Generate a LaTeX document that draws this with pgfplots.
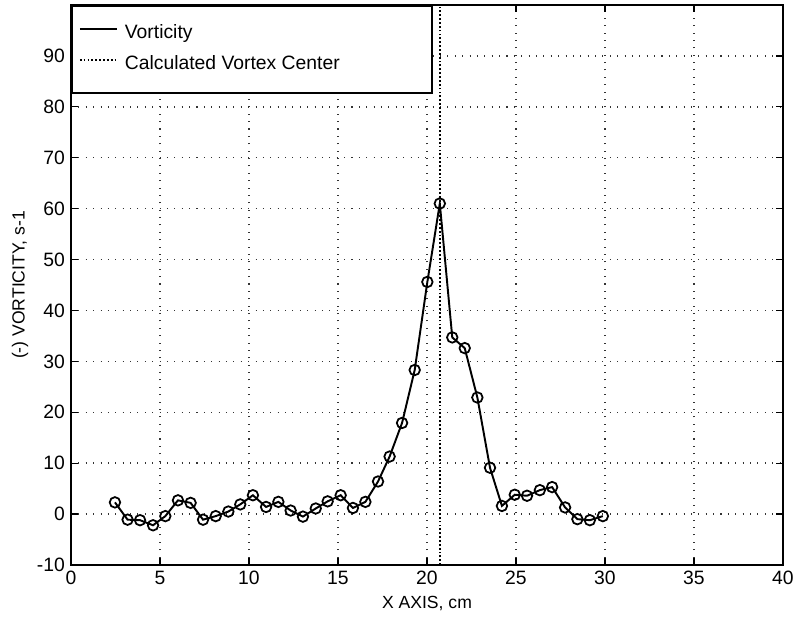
\documentclass[border=0pt]{standalone}
\usepackage{pgfplots}
\pgfplotsset{compat=1.18}
\usepackage{fontspec}
\setmainfont{Liberation Sans}

\pgfplotstableread{
x      y
2.47   2.3
3.18  -1.1
3.88  -1.2
4.61  -2.2
5.30  -0.4
6.01   2.7
6.72   2.2
7.42  -1.1
8.13  -0.4
8.84   0.5
9.51   1.9
10.22  3.7
10.96  1.4
11.65  2.4
12.34  0.7
13.03 -0.5
13.75  1.1
14.42  2.5
15.15  3.7
15.84  1.2
16.54  2.4
17.25  6.4
17.90 11.3
18.60 17.9
19.31 28.3
20.02 45.6
20.72 61.0
21.42 34.7
22.12 32.6
22.83 22.9
23.54  9.1
24.21  1.6
24.93  3.8
25.62  3.6
26.34  4.7
27.03  5.3
27.76  1.3
28.45 -1.0
29.15 -1.2
29.88 -0.4
}\vort

\begin{document}
\begin{tikzpicture}
\begin{axis}[
    scale only axis,
    width=14.24cm, height=11.2cm,
    xmin=0, xmax=40, ymin=-10, ymax=100,
    xtick={0,5,...,40},
    ytick={-10,0,...,90},
    tick align=inside,
    major tick length=0.14cm,
    every tick/.style={black, line width=0.7pt},
    axis line style={line width=1.1pt},
    grid=major,
    grid style={black!80, line width=0.8pt, dash pattern=on 0.6pt off 3.6pt},
    tick label style={font=\fontsize{11}{13}\selectfont},
    /pgf/number format/assume math mode=true,
    xlabel={X AXIS, cm},
    ylabel={(-) VORTICITY, s-1},
    label style={font=\fontsize{11}{13}\selectfont},
    every axis x label/.style={at={(rel axis cs:0.5,-0.068)}, anchor=center},
    every axis y label/.style={at={(rel axis cs:-0.0716,0.5)}, rotate=90, anchor=center},
    legend image code/.code={\draw[#1] (0cm,0.1cm) -- (0.74cm,0.1cm);},
    legend style={
        at={(0,1)}, anchor=north west,
        draw=black, line width=0.9pt,
        font=\fontsize{11}{13}\selectfont,
        inner xsep=0.14cm, inner ysep=0.26cm,
        row sep=0.02cm, column sep=0.14cm,
        nodes={inner sep=0pt, text height=0.40cm, text depth=0.2cm},
        cells={anchor=west},
    },
]
\coordinate (bbl) at (rel axis cs:-0.0997,-0.0946);
\coordinate (btr) at (rel axis cs:1.0239,1.0089);

\addplot[black, line width=1.1pt, mark=o, mark size=3pt,
    mark options={line width=1pt}, forget plot] table[x=x, y=y] {\vort};

\addlegendimage{black, line width=1.1pt}
\addlegendentry{\makebox[6.0cm][l]{Vorticity}}

\addplot[black, line width=1.2pt, dash pattern=on 1pt off 1.2pt]
    coordinates {(20.75,-10) (20.75,100)};
\addlegendentry{\makebox[6.0cm][l]{Calculated Vortex Center}}
\end{axis}
\pgfresetboundingbox
\path[use as bounding box] (bbl) rectangle (btr);
\end{tikzpicture}
\end{document}
